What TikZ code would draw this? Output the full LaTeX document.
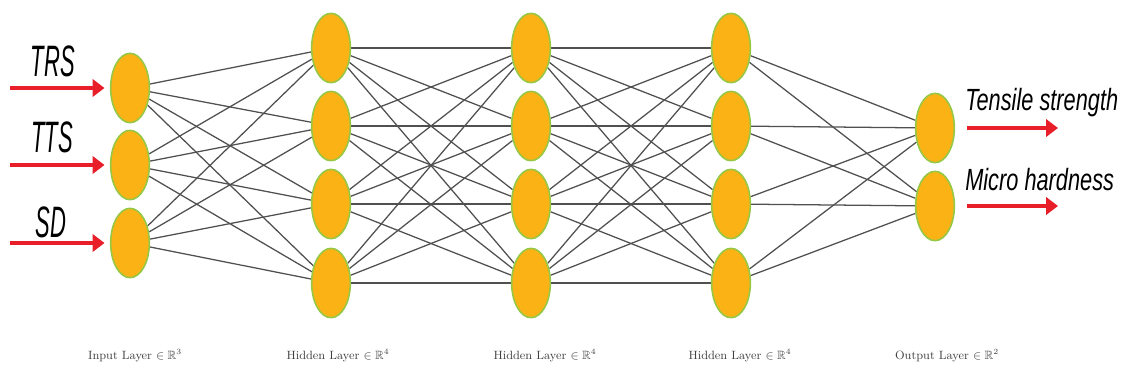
\documentclass[tikz,border=0pt]{standalone}
\usepackage{amssymb}
\usepackage{fontspec}
\newfontfamily\labfont{Liberation Sans}
\usetikzlibrary{shapes.geometric,arrows.meta,backgrounds}
\definecolor{nodeorange}{RGB}{251,178,20}
\definecolor{nodegreen}{RGB}{150,200,70}
\definecolor{edgegray}{RGB}{80,80,80}
\definecolor{arrowred}{RGB}{232,30,40}
\newcommand\narrowtxt[2]{\scalebox{#1}[1]{#2}}
\begin{document}
\begin{tikzpicture}[x=0.75pt,y=-0.75pt,
  neuron/.style={ellipse, draw=nodegreen, line width=1.2pt, fill=nodeorange,
    minimum width=29pt, minimum height=52pt, inner sep=0pt},
  conn/.style={draw=edgegray, line width=0.95pt},
  redarrow/.style={draw=arrowred, line width=3.6pt, -{Triangle[length=9pt,width=13pt]}},
  inlabel/.style={font=\labfont\itshape\fontsize{33}{33}\selectfont, inner sep=0pt},
  outlabel/.style={font=\labfont\itshape\fontsize{23}{23}\selectfont, inner sep=0pt, anchor=base west},
  laylabel/.style={font=\fontsize{9}{9}\selectfont, text=black!75, inner sep=0pt}
]
\useasboundingbox (0,0) rectangle (1128,376);

% input layer
\node[neuron] (i1) at (130,88) {};
\node[neuron] (i2) at (130,165) {};
\node[neuron] (i3) at (130,243) {};
% hidden layers
\foreach \l/\x in {a/331,b/531,c/731}{
  \node[neuron] (\l1) at (\x,48) {};
  \node[neuron] (\l2) at (\x,126) {};
  \node[neuron] (\l3) at (\x,204) {};
  \node[neuron] (\l4) at (\x,283) {};
}
% output layer
\node[neuron] (o1) at (935,128) {};
\node[neuron] (o2) at (935,206) {};

\begin{scope}[on background layer]
  \foreach \i in {1,2,3}{\foreach \j in {1,2,3,4}{\draw[conn] (i\i) -- (a\j);}}
  \foreach \i in {1,2,3,4}{\foreach \j in {1,2,3,4}{\draw[conn] (a\i) -- (b\j);}}
  \foreach \i in {1,2,3,4}{\foreach \j in {1,2,3,4}{\draw[conn] (b\i) -- (c\j);}}
  \foreach \i in {1,2,3,4}{\foreach \j in {1,2}{\draw[conn] (c\i) -- (o\j);}}
\end{scope}

% input arrows
\coordinate (s1) at (10,88);
\coordinate (s2) at (10,165);
\coordinate (s3) at (10,243);
\foreach \k in {1,2,3}{\draw[redarrow, shorten >=4pt] (s\k) -- (i\k);}
\node[inlabel] (tTRS) at (53,61) {\narrowtxt{0.5}{TRS}};
\node[inlabel] (tTTS) at (52,137) {\narrowtxt{0.5}{TTS}};
\node[inlabel] (tSD) at (51,222) {\narrowtxt{0.5}{SD}};

% output arrows
\coordinate (e1) at (1058,128);
\coordinate (e2) at (1058,206);
\foreach \k in {1,2}{\draw[redarrow, shorten <=9pt] (o\k) -- (e\k);}
\node[outlabel] (tTen) at (965,110) {\narrowtxt{0.71}{Tensile strength}};
\node[outlabel] (tMic) at (965,190) {\narrowtxt{0.71}{Micro hardness}};

% layer labels
\node[laylabel] (lin) at (135,356) {Input Layer $\in \mathbb{R}^3$};
\node[laylabel] (lh1) at (338,356) {Hidden Layer $\in \mathbb{R}^4$};
\node[laylabel] (lh2) at (545,356) {Hidden Layer $\in \mathbb{R}^4$};
\node[laylabel] (lh3) at (740,356) {Hidden Layer $\in \mathbb{R}^4$};
\node[laylabel] (lout) at (947,356) {Output Layer $\in \mathbb{R}^2$};
\end{tikzpicture}
\end{document}
